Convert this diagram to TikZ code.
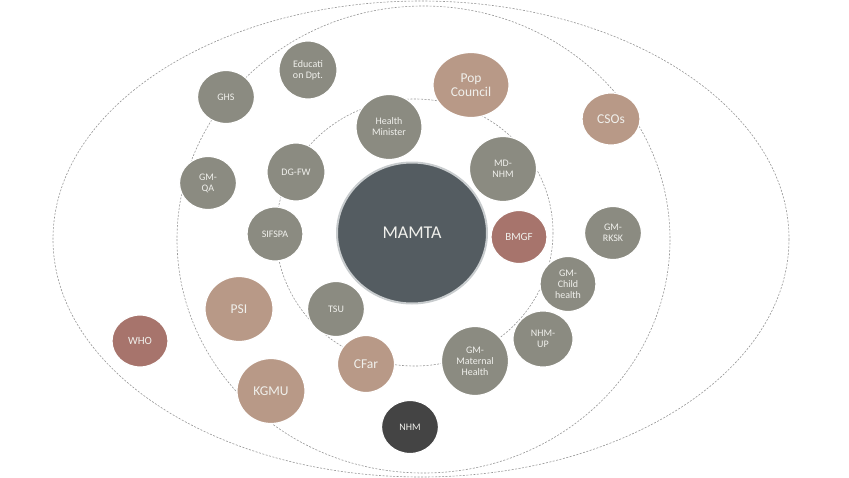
\documentclass[tikz,border=0pt]{standalone}
\usepackage{fontspec}
\setmainfont{Carlito}
\usetikzlibrary{shapes.geometric}
\definecolor{nodegrey}{RGB}{139,139,129}
\definecolor{nodetan}{RGB}{184,153,135}
\definecolor{noderose}{RGB}{167,116,108}
\definecolor{nodedark}{RGB}{68,68,68}
\definecolor{mamtafill}{RGB}{84,92,97}
\definecolor{mamtaedge}{RGB}{200,204,206}
\definecolor{ringgrey}{RGB}{150,150,150}
\definecolor{labelwhite}{RGB}{240,240,236}
\tikzset{
  ring/.style={draw=ringgrey, line width=0.6pt, dash pattern=on 2pt off 1.5pt},
  bubble/.style={ellipse, inner sep=0pt, draw=white, line width=1.2pt,
    text=labelwhite, align=center, font=\fontsize{10}{11}\selectfont},
  greyb/.style={bubble, fill=nodegrey},
  tanb/.style={bubble, fill=nodetan, font=\fontsize{13.5}{14.5}\selectfont},
  roseb/.style={bubble, fill=noderose, font=\fontsize{11}{12}\selectfont},
  darkb/.style={bubble, fill=nodedark},
  sz/.style 2 args={minimum width=#1pt, minimum height=#2pt}
}
\begin{document}
\begin{tikzpicture}[x=1pt, y=-1pt]
\useasboundingbox (0,0) rectangle (849,477);
% rings
\draw[ring] (421,239) ellipse [x radius=368, y radius=238];
\draw[ring] (423.5,239.5) ellipse [x radius=246.5, y radius=233.5];
\draw[ring] (414.5,232.5) ellipse [x radius=138.5, y radius=133.5];
% central node
\node[bubble, fill=mamtafill, draw=mamtaedge, line width=2pt, sz={150}{141},
  font=\fontsize{18}{20}\selectfont] (mamta) at (412,233) {MAMTA};
% grey nodes
\node[greyb, sz={58}{58}] (edu) at (308,70) {Educati\\on Dpt.};
\node[greyb, sz={57}{53}] (ghs) at (226,97) {GHS};
\node[greyb, sz={66}{65}] (hm) at (389,127) {Health\\Minister};
\node[greyb, sz={67}{65}] (mdnhm) at (503,169) {MD-\\NHM};
\node[greyb, sz={58}{58}] (dgfw) at (296,172) {DG-FW};
\node[greyb, sz={57}{53}] (gmqa) at (208,183) {GM-\\QA};
\node[greyb, sz={56}{54}] (sifspa) at (275,234) {SIFSPA};
\node[greyb, sz={57}{53}] (gmrksk) at (613,233) {GM-\\RKSK};
\node[greyb, sz={56}{55}] (gmch) at (568,284) {GM-\\Child\\health};
\node[greyb, sz={57}{55}] (tsu) at (336,309) {TSU};
\node[greyb, sz={60}{56}] (nhmup) at (543,339) {NHM-\\UP};
\node[greyb, sz={67}{69}] (gmmh) at (475,361) {GM-\\Maternal\\Health};
% tan nodes
\node[tanb, sz={76}{65}] (pop) at (471,85) {Pop\\Council};
\node[tanb, sz={58}{52}] (csos) at (611,119) {CSOs};
\node[tanb, sz={68}{65}] (psi) at (239,309) {PSI};
\node[tanb, sz={57}{57}] (cfar) at (366,364) {CFar};
\node[tanb, sz={68}{65}] (kgmu) at (271,391) {KGMU};
% rose nodes
\node[roseb, sz={56}{53}] (bmgf) at (519,237) {BMGF};
\node[roseb, sz={56}{52}] (who) at (140,341) {WHO};
% dark node
\node[darkb, sz={57}{53}] (nhm) at (410,427) {NHM};
\end{tikzpicture}
\end{document}
